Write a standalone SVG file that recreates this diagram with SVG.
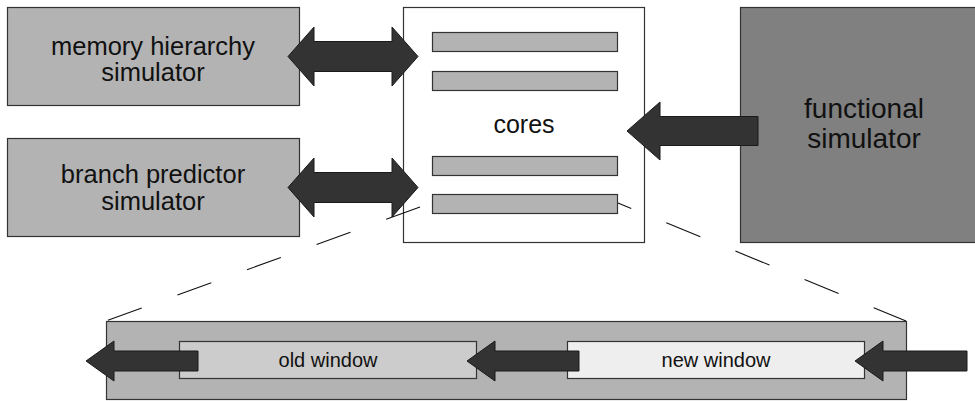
<svg xmlns="http://www.w3.org/2000/svg" width="975" height="401" viewBox="0 0 975 401">
<style>
.box{stroke:#333;stroke-width:1.2}
.lt{fill:#b3b3b3}
.arr{fill:#333;stroke:#1a1a1a;stroke-width:1}
.t{font-family:"Liberation Sans",Arial,sans-serif;fill:#111;text-anchor:middle}
.dash{stroke:#111;stroke-width:1.1;fill:none}
</style>
<rect width="975" height="401" fill="#fff"/>
<g id="memory">
<rect class="box lt" x="7.5" y="7.5" width="292" height="98"/>
<text class="t" x="153" y="55" font-size="25.5">memory hierarchy</text>
<text class="t" x="153" y="81" font-size="25.5">simulator</text>
</g>
<g id="branch">
<rect class="box lt" x="7.5" y="138.5" width="292" height="98"/>
<text class="t" x="153" y="183" font-size="25.5">branch predictor</text>
<text class="t" x="153" y="210" font-size="25.5">simulator</text>
</g>
<g id="functional">
<rect class="box" fill="#808080" x="740.5" y="7.5" width="250" height="235"/>
<text class="t" x="864" y="118" font-size="28">functional</text>
<text class="t" x="864" y="148" font-size="28">simulator</text>
</g>
<g id="cores">
<rect class="box" fill="#fff" x="403.5" y="7.5" width="241" height="235"/>
<text class="t" x="524" y="133" font-size="25">cores</text>
</g>
<g id="pipeline">
<rect class="box lt" x="106.5" y="321.5" width="800" height="78"/>
</g>
<g id="old-window">
<rect class="box" fill="#ccc" x="179.5" y="341.5" width="297" height="37"/>
<text class="t" x="328" y="367" font-size="20">old window</text>
</g>
<g id="new-window">
<rect class="box" fill="#eee" x="567.5" y="341.5" width="297" height="37"/>
<text class="t" x="716" y="367" font-size="20">new window</text>
</g>
<g id="connectors">
<polygon class="arr" points="288,56.5 314,27 314,41.5 392,41.5 392,27 418,56.5 392,86 392,71.5 314,71.5 314,86"/>
<polygon class="arr" points="288,187.5 314,158 314,172.5 392,172.5 392,158 418,187.5 392,217 392,202.5 314,202.5 314,217"/>
<polygon class="arr" points="627,131 660,102 660,116.5 758,116.5 758,145.5 660,145.5 660,160"/>
<polygon class="arr" points="86,361 114,341 114,351 198,351 198,371 114,371 114,381"/>
<polygon class="arr" points="467,361 495,341 495,351 579,351 579,371 495,371 495,381"/>
<polygon class="arr" points="855,361 883,341 883,351 967,351 967,371 883,371 883,381"/>
<line class="dash" x1="420" y1="207" x2="107" y2="320.5" stroke-dasharray="36 38"/>
<line class="dash" x1="618" y1="203" x2="906" y2="321" stroke-dasharray="36.8 37.9" stroke-dashoffset="22.5"/>
</g>
<g id="core-slots">
<rect class="box lt" x="432.5" y="32.5" width="185" height="19"/>
<rect class="box lt" x="432.5" y="71.5" width="185" height="19"/>
<rect class="box lt" x="432.5" y="156.5" width="185" height="19"/>
<rect class="box lt" x="432.5" y="194.5" width="185" height="19"/>
</g>
</svg>
